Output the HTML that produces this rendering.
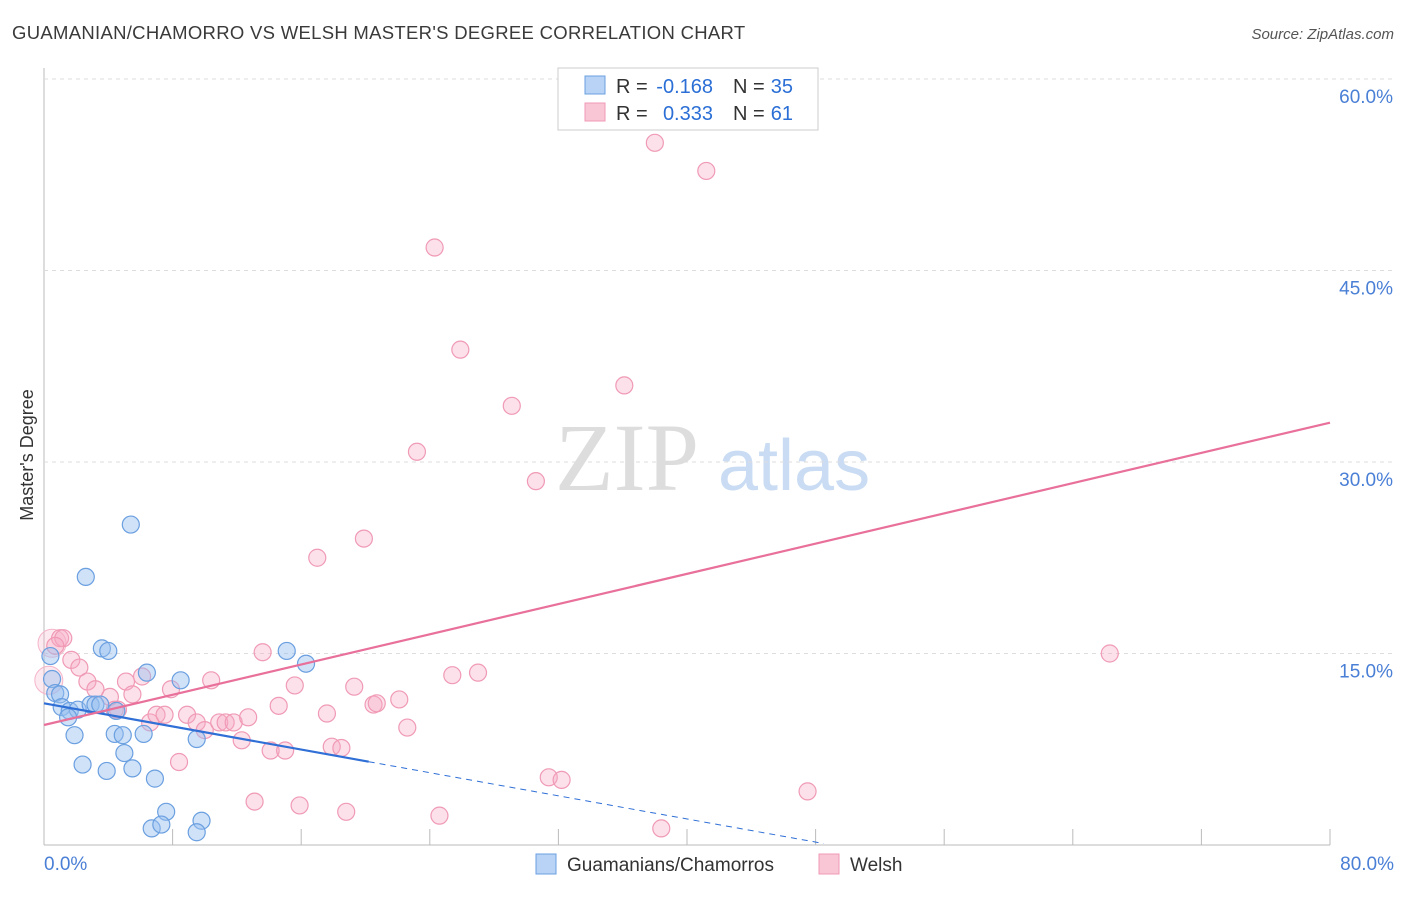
<!DOCTYPE html>
<html><head><meta charset="utf-8"><style>
body{margin:0;background:#fff;font-family:"Liberation Sans",sans-serif}
</style></head><body>
<svg id="c" width="1406" height="892" xmlns="http://www.w3.org/2000/svg">
<text x="12" y="39" font-size="18.5" fill="#3a3a3a" letter-spacing="0.3">GUAMANIAN/CHAMORRO VS WELSH MASTER'S DEGREE CORRELATION CHART</text>
<text x="1394" y="39" font-size="15" fill="#555" font-style="italic" text-anchor="end">Source: ZipAtlas.com</text>
<text x="33" y="455" font-size="18" fill="#333" text-anchor="middle" transform="rotate(-90 33 455)">Master's Degree</text>
<text x="555" y="490" font-size="96" fill="#ddd" font-family="Liberation Serif,serif">ZIP</text>
<text x="718" y="490" font-size="72" fill="#c9dcf3">atlas</text>
<g id="grid"></g><g id="pts"></g><g id="lines"></g>
<g>
<rect x="558" y="68" width="260" height="62" fill="#fff" stroke="#ccc"/>
<rect x="585" y="76" width="20" height="18" fill="#b8d3f5" stroke="#6a9fe0"/>
<rect x="585" y="103" width="20" height="18" fill="#f9c6d5" stroke="#f09ab5"/>
<text x="616" y="93" font-size="20" fill="#333">R =</text>
<text x="713" y="93" font-size="20" fill="#2b6fd6" text-anchor="end">-0.168</text>
<text x="733" y="93" font-size="20" fill="#333">N =</text>
<text x="793" y="93" font-size="20" fill="#2b6fd6" text-anchor="end">35</text>
<text x="616" y="120" font-size="20" fill="#333">R =</text>
<text x="713" y="120" font-size="20" fill="#2b6fd6" text-anchor="end">0.333</text>
<text x="733" y="120" font-size="20" fill="#333">N =</text>
<text x="793" y="120" font-size="20" fill="#2b6fd6" text-anchor="end">61</text>
</g>
<g>
<rect x="536" y="854" width="20" height="20" fill="#b8d3f5" stroke="#6a9fe0"/>
<text x="567" y="871" font-size="19" fill="#333">Guamanians/Chamorros</text>
<rect x="819" y="854" width="20" height="20" fill="#f9c6d5" stroke="#f09ab5"/>
<text x="850" y="871" font-size="19" fill="#333">Welsh</text>
</g>
</svg>
<script>
const xTicks=[0,8,16,24,32,40,48,56,64,72,80];
const yTicks=[15,30,45,60];
const blueX=[5.4,2.6,3.6,4.0,6.4,8.5,15.1,16.3,0.5,0.7,1.0,1.1,1.6,2.1,2.9,3.2,3.5,1.5,4.5,1.9,4.4,4.9,6.2,9.5,5.0,2.4,3.9,5.5,6.9,7.6,6.7,7.3,9.8,9.5,0.4];
const blueY=[25.1,21.0,15.4,15.2,13.5,12.9,15.2,14.2,13.0,11.9,11.8,10.8,10.5,10.6,11.0,11.0,11.0,10.0,10.5,8.6,8.7,8.6,8.7,8.3,7.2,6.3,5.8,6.0,5.2,2.6,1.3,1.6,1.9,1.0,14.8];
const welshX=[38.0,41.2,24.3,25.9,36.1,29.1,23.2,30.6,19.9,17.0,66.3,1.0,1.2,0.7,1.7,2.2,2.7,3.2,4.1,4.4,5.1,5.5,6.1,6.6,7.0,7.5,7.9,8.9,9.5,10.0,10.4,10.9,11.3,11.8,12.3,12.7,13.6,14.1,14.6,15.0,15.6,17.6,17.9,18.5,19.3,20.5,20.7,22.1,22.6,25.4,27.0,31.4,32.2,47.5,13.1,15.9,18.8,24.6,38.4,8.4,4.6];
const welshY=[55.0,52.8,46.8,38.8,36.0,34.4,30.8,28.5,24.0,22.5,15.0,16.2,16.2,15.6,14.5,13.9,12.8,12.2,11.6,10.6,12.8,11.8,13.2,9.6,10.2,10.2,12.2,10.2,9.6,9.0,12.9,9.6,9.6,9.6,8.2,10.0,15.1,7.4,10.9,7.4,12.5,10.3,7.7,7.6,12.4,11.0,11.1,11.4,9.2,13.3,13.5,5.3,5.1,4.2,3.4,3.1,2.6,2.3,1.3,6.5,10.6];
const bigWelshX=[0.5,0.3];
const bigWelshY=[15.8,12.9];
const X=v=>44+v*(1330-44)/80, Y=v=>845-v*(845-79)/60;
const NS="http://www.w3.org/2000/svg";
function mk(p,t,a){const e=document.createElementNS(NS,t);for(const k in a)e.setAttribute(k,a[k]);p.appendChild(e);return e;}
const g=document.getElementById('grid');
const axY=mk(g,'line',{x1:44,y1:68,x2:44,y2:845,stroke:'#bbb'});


const axX=mk(g,'line',{x1:44,y1:845,x2:1330,y2:845,stroke:'#bbb'});


yTicks.forEach(v=>{
 const l=mk(g,'line',{x1:44,x2:1394,y1:Y(v),y2:Y(v),stroke:'#ddd','stroke-dasharray':'4,4'});
 
 
 const t=mk(g,'text',{x:1393,y:Y(v)+24,'font-size':19,fill:'#4a7fd6','text-anchor':'end'});t.textContent=v.toFixed(1)+'%';
 
 
});
xTicks.forEach(v=>{
 const l=mk(g,'line',{x1:X(v),x2:X(v),y1:829,y2:845,stroke:'#bbb'});
 
 
});
[[0,'0.0%',44,'start'],[80,'80.0%',1394,'end']].forEach(a=>{
 const t=mk(g,'text',{x:a[2],y:870,'font-size':19,fill:'#4a7fd6','text-anchor':a[3]});t.textContent=a[1];
 
 
});
const p=document.getElementById('pts');
bigWelshX.forEach((v,i)=>{
 const c=mk(p,'circle',{cx:X(v),cy:Y(bigWelshY[i]),r:14,fill:'rgba(246,170,195,0.25)',stroke:'#f5b5c9','stroke-width':1});
 
 
});
welshX.forEach((v,i)=>{
 const c=mk(p,'circle',{cx:X(v),cy:Y(welshY[i]),r:8.5,fill:'rgba(246,170,195,0.35)',stroke:'#f09ab5','stroke-width':1.2});
 
 
});
blueX.forEach((v,i)=>{
 const c=mk(p,'circle',{cx:X(v),cy:Y(blueY[i]),r:8.5,fill:'rgba(150,190,240,0.45)',stroke:'#6a9fe0','stroke-width':1.2});
 
 
});
const L=document.getElementById('lines');
const b0=11.1,b1=-0.2265,w0=9.4,w1=0.296;
let e=mk(L,'line',{x1:X(0),y1:Y(b0),x2:X(20.2),y2:Y(b0+b1*20.2),stroke:'#2f6fd6','stroke-width':2.2});


e=mk(L,'line',{x1:X(20.2),y1:Y(b0+b1*20.2),x2:X(48.5),y2:Y(b0+b1*48.5),stroke:'#2f6fd6','stroke-width':1,'stroke-dasharray':'6,5'});


e=mk(L,'line',{x1:X(0),y1:Y(w0),x2:X(80),y2:Y(w0+w1*80),stroke:'#e8709a','stroke-width':2.2});


</script>
</body></html>
